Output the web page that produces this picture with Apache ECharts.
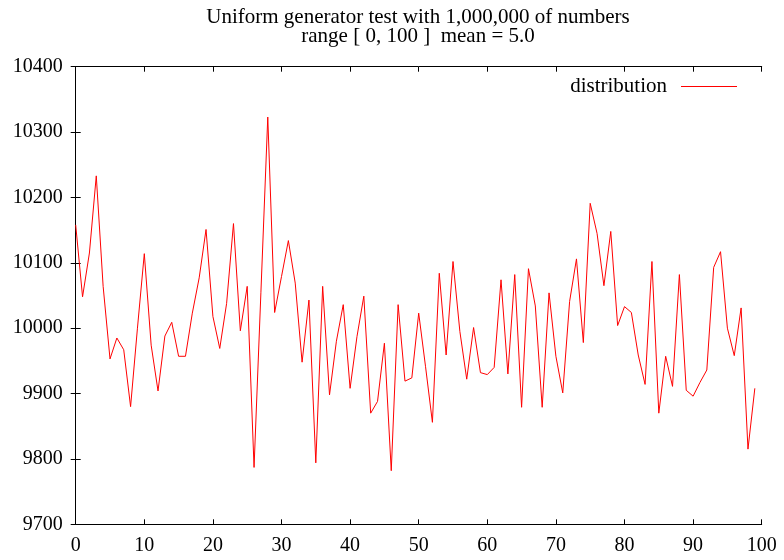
<!DOCTYPE html>
<html>
<head>
<meta charset="utf-8">
<script src="https://cdn.jsdelivr.net/npm/echarts@6/dist/echarts.min.js"></script>
<style>html,body{margin:0;padding:0;background:#fff}#c{width:784px;height:560px}</style>
</head>
<body>
<div id="c"></div>
<script>
const titleLines = ["Uniform generator test with 1,000,000 of numbers", "range [ 0, 100 ]  mean = 5.0"];
const seriesName = "distribution";
const xValues = [0,1,2,3,4,5,6,7,8,9,10,11,12,13,14,15,16,17,18,19,20,21,22,23,24,25,26,27,28,29,30,31,32,33,34,35,36,37,38,39,40,41,42,43,44,45,46,47,48,49,50,51,52,53,54,55,56,57,58,59,60,61,62,63,64,65,66,67,68,69,70,71,72,73,74,75,76,77,78,79,80,81,82,83,84,85,86,87,88,89,90,91,92,93,94,95,96,97,98,99];
const counts = [10158,10048,10115,10233,10064,9953,9985,9967,9880,10000,
10114,9974,9904,9988,10009,9957,9957,10023,10077,10151,
10018,9969,10038,10160,9996,10064,9787,10055,10323,10024,
10079,10134,10069,9948,10043,9794,10064,9898,9980,10036,
9908,9987,10049,9870,9888,9977,9782,10036,9919,9924,
10023,9941,9856,10084,9959,10102,9995,9922,10001,9932,
9929,9940,10074,9930,10082,9879,10091,10034,9879,10054,
9957,9901,10041,10106,9978,10191,10145,10065,10148,10004,
10033,10024,9959,9914,10102,9870,9957,9911,10082,9905,
9896,9917,9936,10093,10117,10000,9958,10031,9815,9908];
const xMin = 0, xMax = 100, xStep = 10;
const yMin = 9700, yMax = 10400, yStep = 100;

const chart = echarts.init(document.getElementById('c'), null, {renderer: 'canvas'});
const font = '"Liberation Serif", "DejaVu Serif", serif';
const axisCommon = {
  axisLine: {show: true, lineStyle: {color: '#000', width: 1}},
  axisTick: {show: true, inside: true, length: 5, lineStyle: {color: '#000', width: 1}},
  splitLine: {show: false}
};
chart.setOption({
  backgroundColor: '#fff',
  animation: false,
  title: {
    text: titleLines.join('\n'),
    left: 418, top: 8, padding: 0, textAlign: 'center',
    textStyle: {fontFamily: font, fontSize: 21, fontWeight: 'normal', color: '#000', lineHeight: 19}
  },
  legend: {
    data: [seriesName],
    right: 47, top: 76, padding: 0,
    align: 'right',
    icon: 'rect',
    itemWidth: 56, itemHeight: 1,
    textStyle: {fontFamily: font, fontSize: 21, color: '#000', padding: [0, 9, 0, 0]}
  },
  grid: {left: 75.7, right: 22.3, top: 66.7, bottom: 35.7},
  xAxis: [
    Object.assign({type: 'value', min: xMin, max: xMax, interval: xStep, position: 'bottom',
      axisLabel: {fontFamily: font, fontSize: 20, color: '#000', margin: 11, formatter: v => String(v)}}, axisCommon),
    Object.assign({type: 'value', min: xMin, max: xMax, interval: xStep, position: 'top',
      axisLabel: {show: false}}, axisCommon)
  ],
  yAxis: [
    Object.assign({type: 'value', min: yMin, max: yMax, interval: yStep, position: 'left',
      axisLabel: {fontFamily: font, fontSize: 20, color: '#000', margin: 13, formatter: v => String(v)}}, axisCommon),
    Object.assign({type: 'value', min: yMin, max: yMax, interval: yStep, position: 'right',
      axisLabel: {show: false}}, axisCommon)
  ],
  series: [{
    name: seriesName,
    type: 'line',
    data: xValues.map((x, i) => [x, counts[i]]),
    showSymbol: false,
    symbol: 'none',
    lineStyle: {color: '#ff0000', width: 1},
    itemStyle: {color: '#ff0000'}
  }]
});
</script>
</body>
</html>
